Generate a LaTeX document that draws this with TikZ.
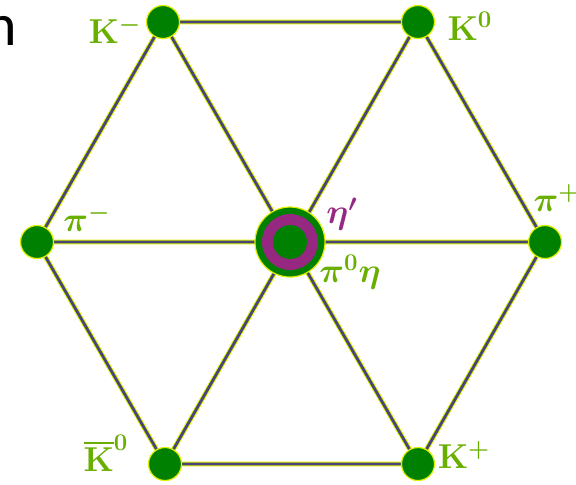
\documentclass[tikz,border=0pt]{standalone}
\usepackage{amsmath}
\usepackage{fontspec}
\usepackage{tikz}
\usetikzlibrary{positioning, backgrounds}
\newfontfamily\slidefont{Carlito}
\definecolor{dotgreen}{RGB}{0,128,0}
\definecolor{halo}{RGB}{225,240,0}
\definecolor{bondblue}{RGB}{70,70,120}
\definecolor{lblgreen}{RGB}{105,175,0}
\definecolor{etapurple}{RGB}{150,40,130}

\begin{document}
\begin{tikzpicture}[x=0.5pt, y=-0.5pt,
    dot/.style={circle, fill=dotgreen, draw=halo, line width=0.6pt, minimum size=16.5pt, inner sep=0pt},
    bond/.style={draw=halo, line width=0.5pt, double=bondblue, double distance=1.4pt},
    lbl/.style={text=lblgreen, font=\fontsize{18}{20}\selectfont\bfseries\boldmath, inner sep=0pt}]
    \useasboundingbox (0,0) rectangle (576,484);
    % meson octet
    \node[dot] (Km) at (163,22) {};
    \node[dot] (K0) at (418,22) {};
    \node[dot] (pim) at (37,242) {};
    \node[dot] (pip) at (545,242) {};
    \node[dot] (K0b) at (165,464) {};
    \node[dot] (Kp) at (418,464) {};
    \node[circle, fill=dotgreen, draw=halo, line width=0.6pt, minimum size=35pt, inner sep=0pt] (c) at (290,242) {};
    \node[circle, fill=etapurple, minimum size=28pt, inner sep=0pt] (cring) at (c) {};
    \node[circle, fill=dotgreen, minimum size=17pt, inner sep=0pt] (cin) at (c) {};
    \begin{scope}[on background layer]
      \draw[bond] (Km) -- (K0) -- (pip) -- (Kp) -- (K0b) -- (pim) -- (Km);
      \draw[bond] (Km) -- (Kp)
                  (K0) -- (K0b)
                  (pim) -- (pip);
    \end{scope}
    % labels
    \node[lbl] (lKm) at (115,30) {$\mathbf{K}^{-}$};
    \node[lbl] (lK0) at (470,26) {$\mathbf{K}^{0}$};
    \node[lbl] (lpim) at (87,218) {$\pi^{-}$};
    \node[lbl] (lpip) at (557,198) {$\pi^{+}$};
    \node[lbl, text=etapurple] (leta) at (342,214) {$\eta^{\prime}$};
    \node[lbl] (lpi0) at (350,272) {$\pi^{0}\eta$};
    \node[lbl] (lK0b) at (106,453) {$\overline{\mathbf{K}}^{0}$};
    \node[lbl] (lKp) at (464,455) {$\mathbf{K}^{+}$};
    \node[anchor=base east, inner sep=0pt, font=\fontsize{30}{32}\selectfont\slidefont] (frag) at (17,45) {n};
\end{tikzpicture}
\end{document}
